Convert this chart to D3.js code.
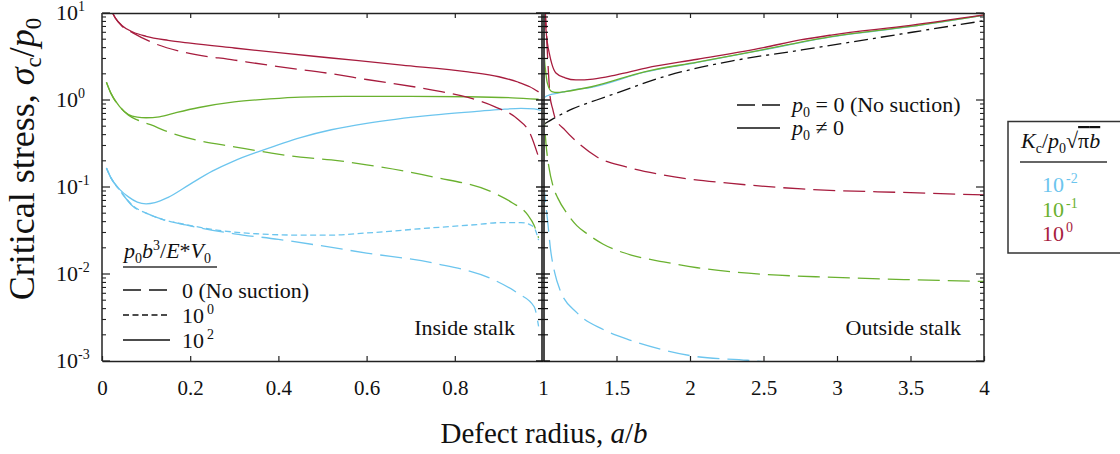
<!DOCTYPE html>
<html>
<head>
<meta charset="utf-8">
<script src="https://d3js.org/d3.v7.min.js"></script>
<style>
  body { margin: 0; background: #fff; }
  text { font-family: "Liberation Serif", "DejaVu Serif", serif; fill: #111; }
</style>
</head>
<body>
<div id="graph"></div>
<script>

// ---- data: [a/b, sigma_c/p0] ----
// inside stalk (0 < a/b < 1)
var insideRed100 = [[0.02,11],[0.03,8.8],[0.045,7.2],[0.07,6.05],[0.1,5.4],[0.15,4.85],[0.2,4.5],[0.3,3.96],[0.4,3.5],[0.52,3.04],[0.68,2.52],[0.83,2.1],[0.9,1.85],[0.943,1.61],[0.97,1.42],[0.99,1.24]];
var insideRed0 = [[0.02,11],[0.03,8.8],[0.045,7.1],[0.07,5.9],[0.12,4.45],[0.19,3.5],[0.3,2.88],[0.4,2.42],[0.51,2.04],[0.6,1.72],[0.75,1.3],[0.83,1.07],[0.89,0.84],[0.943,0.6],[0.97,0.42],[0.99,0.22]];
var insideGreen100 = [[0.01,1.6],[0.02,1.2],[0.04,0.84],[0.06,0.68],[0.08,0.635],[0.1,0.625],[0.13,0.64],[0.17,0.72],[0.22,0.82],[0.3,0.95],[0.38,1.03],[0.45,1.08],[0.55,1.1],[0.7,1.1],[0.83,1.09],[0.93,1.06],[0.99,1.02]];
var insideGreen0 = [[0.01,1.6],[0.02,1.2],[0.04,0.84],[0.06,0.67],[0.08,0.59],[0.11,0.52],[0.15,0.43],[0.22,0.34],[0.3,0.29],[0.375,0.25],[0.45,0.22],[0.52,0.205],[0.6,0.18],[0.75,0.131],[0.89,0.085],[0.93,0.066],[0.965,0.048],[0.98,0.036],[0.99,0.026]];
var insideBlue100 = [[0.01,0.165],[0.02,0.128],[0.04,0.094],[0.06,0.077],[0.08,0.067],[0.1,0.064],[0.12,0.066],[0.15,0.076],[0.2,0.108],[0.25,0.152],[0.3,0.2],[0.36,0.26],[0.45,0.37],[0.52,0.455],[0.6,0.54],[0.75,0.67],[0.85,0.74],[0.905,0.78],[0.95,0.8],[0.98,0.79],[0.995,0.76]];
var insideBlue1 = [[0.01,0.165],[0.02,0.128],[0.04,0.092],[0.07,0.061],[0.1,0.05],[0.14,0.042],[0.19,0.037],[0.26,0.032],[0.35,0.029],[0.45,0.028],[0.52,0.028],[0.6,0.0296],[0.75,0.034],[0.85,0.037],[0.905,0.039],[0.95,0.039],[0.97,0.037],[0.98,0.034],[0.99,0.0245]];
var insideBlue0 = [[0.01,0.165],[0.02,0.128],[0.04,0.092],[0.07,0.06],[0.1,0.05],[0.14,0.042],[0.19,0.0366],[0.3,0.029],[0.4,0.025],[0.5,0.021],[0.6,0.0174],[0.75,0.0134],[0.89,0.0085],[0.943,0.006],[0.98,0.0042],[0.99,0.0025]];

// outside stalk (1 < a/b < 4)
var outsideRed100 = [[1.012,11],[1.02,6.5],[1.03,4.5],[1.043,3.44],[1.06,2.6],[1.088,2.04],[1.15,1.8],[1.224,1.7],[1.34,1.74],[1.5,1.95],[1.7,2.33],[2.05,2.94],[2.5,4.0],[2.75,4.9],[2.96,5.58],[3.5,7.2],[4,9.5]];
var outsideGreen100 = [[1.004,5],[1.01,3],[1.02,2.0],[1.03,1.55],[1.06,1.25],[1.1,1.22],[1.15,1.25],[1.33,1.42],[1.69,2.11],[2.05,2.73],[2.5,3.8],[2.96,5.35],[3.5,7.0],[4,9.45]];
var outsideBlue100 = [[1.003,0.98],[1.013,1.08],[1.05,1.15],[1.1,1.2],[1.2,1.3],[1.33,1.4],[1.69,2.09],[2.05,2.71],[2.5,3.78],[2.96,5.32],[3.5,6.98],[4,9.4]];
var outsideRed0 = [[1.012,12],[1.02,8],[1.028,4],[1.035,2.4],[1.048,1.1],[1.065,0.8],[1.08,0.64],[1.15,0.45],[1.24,0.32],[1.37,0.22],[1.56,0.171],[1.82,0.137],[2.28,0.11],[2.76,0.095],[3.5,0.086],[4,0.081]];
var outsideGreen0 = [[1.003,0.9],[1.01,0.55],[1.02,0.32],[1.04,0.17],[1.07,0.1],[1.1,0.075],[1.17,0.048],[1.23,0.036],[1.3,0.029],[1.41,0.022],[1.6,0.0165],[1.82,0.0138],[2.05,0.0118],[2.28,0.0106],[2.6,0.0097],[2.93,0.0092],[3.5,0.0086],[4,0.0082]];
var outsideBlue0 = [[1.003,0.12],[1.01,0.09],[1.018,0.065],[1.032,0.04],[1.05,0.02],[1.08,0.0103],[1.115,0.0066],[1.23,0.0036],[1.41,0.0023],[1.59,0.00174],[1.82,0.00134],[2.05,0.00112],[2.39,0.00102],[2.5,0.00098]];
var outsideNoKc = [[1,0.52],[1.1,0.65],[1.2,0.79],[1.365,1.0],[1.5,1.2],[1.82,1.85],[2.28,2.8],[2.76,3.76],[3.44,5.75],[4,8.15]];

// ticks
var insideTicks = [0, 0.2, 0.4, 0.6, 0.8, 1];
var outsideTicks = [1.5, 2, 2.5, 3, 3.5, 4];
var decades = [-3, -2, -1, 0, 1];
var kcLabels = ["-2", "-1", "0"];

var colors = { blue: "#6cc5ee", green: "#6ab12f", red: "#a71c3e" };

// ---- layout ----
var W = 1120, H = 454;
var plotTop = 13, plotBottom = 361, plotLeft = 102, plotMid = 543, plotRight = 984;

var svg = d3.select("#graph").append("svg")
  .attr("width", W).attr("height", H);

var xIn = d3.scaleLinear().domain([0, 1]).range([plotLeft, plotMid]);
var xOut = d3.scaleLinear().domain([1, 4]).range([plotMid, plotRight]);
var y = d3.scaleLog().domain([1e-3, 10]).range([plotBottom, plotTop]);

var defs = svg.append("defs");
defs.append("clipPath").attr("id", "clipIn").append("rect")
  .attr("x", plotLeft).attr("y", plotTop).attr("width", plotMid - plotLeft).attr("height", plotBottom - plotTop);
defs.append("clipPath").attr("id", "clipOut").append("rect")
  .attr("x", plotMid).attr("y", plotTop).attr("width", plotRight - plotMid).attr("height", plotBottom - plotTop);

var dashLong = "22,8", dashShort = "6,3.5", dashDot = "14,5,3,5";

function drawCurve(g, x, data, color, dash) {
  var line = d3.line()
    .x(function(d) { return x(d[0]); })
    .y(function(d) { return y(d[1]); })
    .curve(d3.curveMonotoneX);
  g.append("path")
    .datum(data)
    .attr("fill", "none")
    .attr("stroke", color)
    .attr("stroke-width", 1.3)
    .attr("stroke-dasharray", dash)
    .attr("d", line);
}

var gIn = svg.append("g").attr("clip-path", "url(#clipIn)");
drawCurve(gIn, xIn, insideBlue0, colors.blue, dashLong);
drawCurve(gIn, xIn, insideBlue1, colors.blue, dashShort);
drawCurve(gIn, xIn, insideBlue100, colors.blue, null);
drawCurve(gIn, xIn, insideGreen0, colors.green, dashLong);
drawCurve(gIn, xIn, insideGreen100, colors.green, null);
drawCurve(gIn, xIn, insideRed0, colors.red, dashLong);
drawCurve(gIn, xIn, insideRed100, colors.red, null);

var gOut = svg.append("g").attr("clip-path", "url(#clipOut)");
drawCurve(gOut, xOut, outsideNoKc, "#111", dashDot);
drawCurve(gOut, xOut, outsideBlue0, colors.blue, dashLong);
drawCurve(gOut, xOut, outsideGreen0, colors.green, dashLong);
drawCurve(gOut, xOut, outsideRed0, colors.red, dashLong);
drawCurve(gOut, xOut, outsideBlue100, colors.blue, null);
drawCurve(gOut, xOut, outsideGreen100, colors.green, null);
drawCurve(gOut, xOut, outsideRed100, colors.red, null);

// ---- axes ----
var axisColor = "#222";

function styleAxis(g) {
  g.select(".domain").attr("stroke", axisColor).attr("stroke-width", 1.5);
  g.selectAll(".tick line").attr("stroke", axisColor).attr("stroke-width", 1.2);
  g.selectAll(".tick text")
    .attr("font-family", "Liberation Serif, serif")
    .attr("font-size", 21).attr("fill", "#111");
}

svg.append("g")
  .attr("transform", "translate(0," + plotBottom + ")")
  .call(d3.axisBottom(xIn).tickValues(insideTicks).tickSize(-5).tickSizeOuter(0).tickPadding(19)
    .tickFormat(d3.format("")))
  .call(styleAxis);
svg.append("g")
  .attr("transform", "translate(0," + plotBottom + ")")
  .call(d3.axisBottom(xOut).tickValues(outsideTicks).tickSize(-5).tickSizeOuter(0).tickPadding(19)
    .tickFormat(d3.format("")))
  .call(styleAxis);
svg.append("g")
  .attr("transform", "translate(0," + plotTop + ")")
  .call(d3.axisTop(xIn).tickValues(insideTicks.slice(1, 5)).tickSize(-5).tickSizeOuter(0).tickFormat(""))
  .call(styleAxis);
svg.append("g")
  .attr("transform", "translate(0," + plotTop + ")")
  .call(d3.axisTop(xOut).tickValues(outsideTicks.slice(0, 5)).tickSize(-5).tickSizeOuter(0).tickFormat(""))
  .call(styleAxis);

// log ticks on the vertical axes
var minorVals = [];
decades.slice(0, 4).forEach(function(e) {
  for (var k = 2; k <= 9; k++) minorVals.push(k * Math.pow(10, e));
});
var majorVals = decades.map(function(e) { return Math.pow(10, e); });

function vTicks(x0, dir) {
  var g = svg.append("g");
  g.append("line").attr("x1", x0).attr("x2", x0).attr("y1", plotTop).attr("y2", plotBottom)
    .attr("stroke", axisColor).attr("stroke-width", 1.5);
  g.selectAll(".mn").data(minorVals).enter().append("line")
    .attr("x1", x0).attr("x2", x0 + dir * 4)
    .attr("y1", function(d) { return y(d); }).attr("y2", function(d) { return y(d); })
    .attr("stroke", axisColor).attr("stroke-width", 1.1);
  g.selectAll(".mj").data(majorVals).enter().append("line")
    .attr("x1", x0).attr("x2", x0 + dir * 8)
    .attr("y1", function(d) { return y(d); }).attr("y2", function(d) { return y(d); })
    .attr("stroke", axisColor).attr("stroke-width", 1.2);
}
vTicks(plotLeft, 1);
vTicks(plotRight, -1);

// thick middle divider with ticks on both sides
var gm = svg.append("g");
gm.append("line").attr("x1", plotMid).attr("x2", plotMid).attr("y1", plotTop).attr("y2", plotBottom)
  .attr("stroke", "#4a4a4a").attr("stroke-width", 4);
gm.selectAll(".mn").data(minorVals).enter().append("line")
  .attr("x1", plotMid - 5).attr("x2", plotMid + 5)
  .attr("y1", function(d) { return y(d); }).attr("y2", function(d) { return y(d); })
  .attr("stroke", "#111").attr("stroke-width", 1.2);
gm.selectAll(".mj").data(majorVals).enter().append("line")
  .attr("x1", plotMid - 7).attr("x2", plotMid + 7)
  .attr("y1", function(d) { return y(d); }).attr("y2", function(d) { return y(d); })
  .attr("stroke", "#111").attr("stroke-width", 1.4);

// y tick labels 10^n
decades.forEach(function(e) {
  var t = svg.append("text").attr("x", 56).attr("y", y(Math.pow(10, e)) + 7).attr("font-size", 22);
  t.append("tspan").text("10");
  t.append("tspan").attr("font-size", 14).attr("dy", -9).text(e);
});

// ---- axis titles ----
var xt = svg.append("text").attr("x", 544).attr("y", 443)
  .attr("text-anchor", "middle").attr("font-size", 29);
xt.append("tspan").text("Defect radius, ");
xt.append("tspan").attr("font-style", "italic").text("a");
xt.append("tspan").text("/");
xt.append("tspan").attr("font-style", "italic").text("b");

var yt = svg.append("text")
  .attr("transform", "translate(34,159) rotate(-90)")
  .attr("text-anchor", "middle").attr("font-size", 36);
yt.append("tspan").text("Critical stress, ");
yt.append("tspan").attr("font-style", "italic").text("σ");
yt.append("tspan").attr("font-size", 23).attr("dy", 7).text("c");
yt.append("tspan").attr("dy", -7).text("/");
yt.append("tspan").attr("font-style", "italic").text("p");
yt.append("tspan").attr("font-size", 23).attr("dy", 7).text("0");

// panel labels
svg.append("text").attr("x", 515).attr("y", 335).attr("text-anchor", "end")
  .attr("font-size", 22).text("Inside stalk");
svg.append("text").attr("x", 961).attr("y", 335).attr("text-anchor", "end")
  .attr("font-size", 22).text("Outside stalk");

// ---- legend: suction parameter (left panel) ----
var lt = svg.append("text").attr("x", 124).attr("y", 258).attr("font-size", 22);
lt.append("tspan").attr("font-style", "italic").text("p");
lt.append("tspan").attr("font-size", 14).attr("dy", 5).text("0");
lt.append("tspan").attr("font-style", "italic").attr("dy", -5).text("b");
lt.append("tspan").attr("font-size", 14).attr("dy", -8).text("3");
lt.append("tspan").attr("dy", 8).text("/");
lt.append("tspan").attr("font-style", "italic").text("E");
lt.append("tspan").text("*");
lt.append("tspan").attr("font-style", "italic").text("V");
lt.append("tspan").attr("font-size", 14).attr("dy", 5).text("0");
svg.append("line").attr("x1", 123).attr("x2", 217).attr("y1", 267).attr("y2", 267)
  .attr("stroke", "#333").attr("stroke-width", 1.3);

var suctionRows = [
  { dash: "18,8", label: "0 (No suction)", exp: null },
  { dash: dashShort, label: "10", exp: "0" },
  { dash: null, label: "10", exp: "2" }
];
suctionRows.forEach(function(r, i) {
  var yy = 290 + i * 25;
  svg.append("line").attr("x1", 123).attr("x2", 170).attr("y1", yy).attr("y2", yy)
    .attr("stroke", "#111").attr("stroke-width", 1.3).attr("stroke-dasharray", r.dash);
  var t = svg.append("text").attr("x", 182).attr("y", yy + 7.5).attr("font-size", 22);
  t.append("tspan").text(r.label);
  if (r.exp) t.append("tspan").attr("font-size", 14).attr("dx", 3).attr("dy", -9).text(r.exp);
});

// ---- legend: p0 (right panel) ----
var pRows = [
  { dash: "18,7", rel: "= 0 (No suction)" },
  { dash: null, rel: "≠ 0" }
];
pRows.forEach(function(r, i) {
  var yy = 105 + i * 23;
  svg.append("line").attr("x1", 737).attr("x2", 780).attr("y1", yy).attr("y2", yy)
    .attr("stroke", "#111").attr("stroke-width", 1.3).attr("stroke-dasharray", r.dash);
  var t = svg.append("text").attr("x", 792).attr("y", yy + 6.5).attr("font-size", 22);
  t.append("tspan").attr("font-style", "italic").text("p");
  t.append("tspan").attr("font-size", 14).attr("dy", 5).text("0");
  t.append("tspan").attr("dy", -5).text(" " + r.rel);
});

// ---- legend: toughness (outside box) ----
svg.append("rect").attr("x", 1008).attr("y", 121.5).attr("width", 140).attr("height", 131.5)
  .attr("fill", "#fff").attr("stroke", "#333").attr("stroke-width", 1.5);
var kt = svg.append("text").attr("x", 1021).attr("y", 148).attr("font-size", 22);
kt.append("tspan").attr("font-style", "italic").text("K");
kt.append("tspan").attr("font-size", 14).attr("dy", 5).text("c");
kt.append("tspan").attr("dy", -5).text("/");
kt.append("tspan").attr("font-style", "italic").text("p");
kt.append("tspan").attr("font-size", 14).attr("dy", 5).text("0");
kt.append("tspan").attr("dy", -5).text("√");
kt.append("tspan").attr("style", "text-decoration: overline").text("π");
kt.append("tspan").attr("font-style", "italic").attr("style", "text-decoration: overline").text("b");
svg.append("line").attr("x1", 1020).attr("x2", 1107).attr("y1", 162).attr("y2", 162)
  .attr("stroke", "#333").attr("stroke-width", 1.3);

var kcColors = [colors.blue, colors.green, colors.red];
kcLabels.forEach(function(e, i) {
  var t = svg.append("text").attr("x", 1042).attr("y", 192 + i * 24.5)
    .attr("font-size", 22).style("fill", kcColors[i]);
  t.append("tspan").text("10");
  t.append("tspan").attr("font-size", 14).attr("dx", 2).attr("dy", -9).text(e);
});

</script>
</body>
</html>
